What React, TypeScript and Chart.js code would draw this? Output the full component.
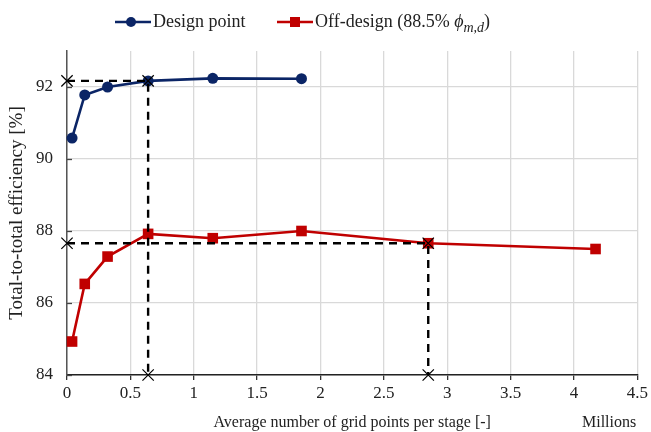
import React, { useEffect, useRef } from "react";
import { Chart, registerables } from "chart.js";

Chart.register(...registerables);

// Average number of grid points per stage, in millions
const designGrid = [0.04, 0.14, 0.32, 0.64, 1.15, 1.85];
const designEff = [90.58, 91.78, 92.0, 92.17, 92.24, 92.23];

const offDesignGrid = [0.04, 0.14, 0.32, 0.64, 1.15, 1.85, 2.85, 4.17];
const offDesignEff = [84.93, 86.53, 87.29, 87.92, 87.8, 88.0, 87.66, 87.5];

// Selected meshes: [design point, off-design]
const selectedGrid = [0.64, 2.85];
const selectedEff = [92.17, 87.66];

const xMin = 0;
const xMax = 4.5;
const xStep = 0.5;
const yMin = 84;
const yMax = 93;
const yTicks = [84, 86, 88, 90, 92];

const BLUE = "#0b2566";
const RED = "#c00000";
const FONT = "'Liberation Serif', 'Times New Roman', serif";

function guide(i: number) {
  return {
    label: "guide" + i,
    data: [
      { x: xMin, y: selectedEff[i] },
      { x: selectedGrid[i], y: selectedEff[i] },
      { x: selectedGrid[i], y: yMin },
    ],
    borderColor: "#000",
    borderWidth: 2.4,
    borderDash: [8, 6],
    pointStyle: "crossRot" as const,
    pointRadius: 8,
    pointBorderWidth: 1.2,
    pointBorderColor: "#000",
    pointBackgroundColor: "#000",
    clip: false as const,
  };
}

// Short inward tick marks on the value axis
const innerYTicks = {
  id: "innerYTicks",
  afterDatasetsDraw(chart: any) {
    const y = chart.scales.y;
    const ctx = chart.ctx;
    ctx.save();
    ctx.strokeStyle = "#444";
    ctx.lineWidth = 1.3;
    y.ticks.forEach((t: any) => {
      const py = Math.round(y.getPixelForValue(t.value)) + 0.5;
      ctx.beginPath();
      ctx.moveTo(y.right, py);
      ctx.lineTo(y.right + 5, py);
      ctx.stroke();
    });
    ctx.restore();
  },
};

export default function App() {
  const ref = useRef<HTMLCanvasElement | null>(null);

  useEffect(() => {
    document.body.style.margin = "0";
    if (!ref.current) return;
    const chart = new Chart(ref.current, {
      type: "line",
      data: {
        datasets: [
          guide(0),
          guide(1),
          {
            label: "Design point",
            data: designGrid.map((x, i) => ({ x, y: designEff[i] })),
            borderColor: BLUE,
            backgroundColor: BLUE,
            borderWidth: 2.6,
            pointStyle: "circle",
            pointRadius: 5.5,
            pointBorderWidth: 0,
            clip: false as const,
          },
          {
            label: "Off-design",
            data: offDesignGrid.map((x, i) => ({ x, y: offDesignEff[i] })),
            borderColor: RED,
            backgroundColor: RED,
            borderWidth: 2.6,
            pointStyle: "rect",
            pointRadius: 7.5,
            pointBorderWidth: 0,
            clip: false as const,
          },
        ],
      },
      plugins: [innerYTicks],
      options: {
        responsive: false,
        animation: false,
        layout: { padding: { top: 51, right: 12, left: 0, bottom: 0 } },
        plugins: { legend: { display: false }, tooltip: { enabled: false } },
        scales: {
          x: {
            type: "linear",
            min: xMin,
            max: xMax,
            ticks: {
              stepSize: xStep,
              color: "#222",
              font: { family: FONT, size: 17 },
              padding: 3,
              maxRotation: 0,
              callback: (v: any) => String(v),
            },
            grid: {
              color: "#d9d9d9",
              lineWidth: 1.3,
              tickLength: 5,
              tickColor: "#333",
            },
            border: { color: "#222", width: 1.5 },
            title: {
              display: true,
              text: "Average number of grid points per stage [-]",
              color: "#222",
              font: { family: FONT, size: 16 },
              padding: { top: 0, bottom: 0 },
            },
            afterFit: (s: any) => {
              s.height = 57;
            },
          },
          y: {
            type: "linear",
            min: yMin,
            max: yMax,
            afterBuildTicks: (s: any) => {
              s.ticks = yTicks.map((v) => ({ value: v }));
            },
            ticks: {
              color: "#222",
              font: { family: FONT, size: 17 },
              padding: 14,
            },
            grid: { color: "#d9d9d9", lineWidth: 1.3, drawTicks: false },
            border: { color: "#555", width: 1.5 },
            title: {
              display: true,
              text: "Total-to-total efficiency [%]",
              color: "#222",
              font: { family: FONT, size: 19 },
              padding: { top: 6, bottom: 0 },
            },
            afterFit: (s: any) => {
              s.width = 67;
            },
          },
        },
      },
    });
    return () => chart.destroy();
  }, []);

  const text: React.CSSProperties = {
    position: "absolute",
    fontFamily: FONT,
    fontSize: 18,
    lineHeight: "20px",
    color: "#222",
    whiteSpace: "nowrap",
  };

  return (
    <div style={{ position: "relative", width: 651, height: 432, background: "#fff" }}>
      <canvas ref={ref} width={651} height={432} style={{ display: "block" }} />
      <svg style={{ position: "absolute", left: 115, top: 13 }} width={36} height={18}>
        <line x1={0} y1={9} x2={36} y2={9} stroke={BLUE} strokeWidth={2.4} />
        <circle cx={16} cy={9} r={5} fill={BLUE} />
      </svg>
      <div style={{ ...text, left: 153, top: 11 }}>Design point</div>
      <svg style={{ position: "absolute", left: 277, top: 13 }} width={36} height={18}>
        <line x1={0} y1={9} x2={36} y2={9} stroke={RED} strokeWidth={2.4} />
        <rect x={13} y={4} width={10} height={10} fill={RED} />
      </svg>
      <div style={{ ...text, left: 315, top: 11 }}>
        Off-design (88.5% <i>ϕ</i>
        <sub style={{ fontSize: 14, fontStyle: "italic", lineHeight: 0 }}>m,d</sub>)
      </div>
      <div style={{ ...text, fontSize: 16, left: 582, top: 412 }}>Millions</div>
    </div>
  );
}
